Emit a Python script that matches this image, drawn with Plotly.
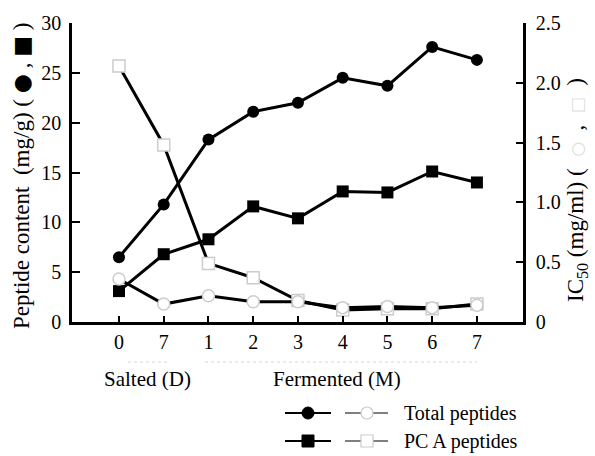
import plotly.graph_objects as go

# ---- data ----
categories = ["0", "7", "1", "2", "3", "4", "5", "6", "7"]
total_peptides = [6.5, 11.8, 18.3, 21.1, 22.0, 24.5, 23.7, 27.6, 26.3]
pca_peptides = [3.1, 6.8, 8.3, 11.6, 10.4, 13.1, 13.0, 15.1, 14.0]
total_ic50 = [0.36, 0.15, 0.22, 0.17, 0.17, 0.12, 0.13, 0.12, 0.14]
pca_ic50 = [2.14, 1.48, 0.49, 0.37, 0.18, 0.10, 0.11, 0.11, 0.15]
group_labels = ["Salted (D)", "Fermented (M)"]
legend_labels = ["Total peptides", "PC A peptides"]

FONT = "Liberation Serif, Times New Roman, serif"
idx = list(range(len(categories)))

# plot-area geometry (pixels)
W, H = 595, 456
L, R, T, B = 72, 523, 23, 322
PW, PH = R - L, B - T

def px(x):
    return (x - L) / PW

def py(y):
    return (B - y) / PH

fig = go.Figure()

open_marker = dict(color="white", line=dict(color="#cccccc", width=1.5), size=12)

fig.add_trace(go.Scatter(x=idx, y=pca_ic50, yaxis="y2", mode="lines+markers",
                         line=dict(color="black", width=3),
                         marker=dict(symbol="square", **open_marker), showlegend=False))
fig.add_trace(go.Scatter(x=idx, y=total_ic50, yaxis="y2", mode="lines+markers",
                         line=dict(color="black", width=3),
                         marker=dict(symbol="circle", **open_marker), showlegend=False))
fig.add_trace(go.Scatter(x=idx, y=pca_peptides, mode="lines+markers",
                         line=dict(color="black", width=3),
                         marker=dict(symbol="square", color="black", size=12), showlegend=False))
fig.add_trace(go.Scatter(x=idx, y=total_peptides, mode="lines+markers",
                         line=dict(color="black", width=3),
                         marker=dict(symbol="circle", color="black", size=12), showlegend=False))

shapes = []
annotations = []

def ann(text, x, y, size, xanchor="center", angle=0):
    annotations.append(dict(text=text, x=px(x), y=py(y), xref="paper", yref="paper",
                            xanchor=xanchor, yanchor="middle", textangle=angle,
                            showarrow=False, font=dict(family=FONT, size=size, color="black")))

# faint dotted group lines under the x tick labels
for x0, x1 in [(128, 168), (205, 477)]:
    shapes.append(dict(type="line", xref="paper", yref="paper",
                       x0=px(x0), x1=px(x1), y0=py(362), y1=py(362),
                       line=dict(color="#d4d4d4", width=1, dash="dot")))

# group labels
ann(group_labels[0], 147, 379, 21)
ann(group_labels[1], 337, 379, 21)

# axis titles
big = "style='font-family:DejaVu Sans;font-size:22px'"
ann(f"Peptide content  (mg/g) ( <span {big}>\u25CF</span> , "
    f"<span {big}>\u25A0</span> )", 21, 176, 23, angle=-90)
faint = "style='color:#dddddd;font-family:DejaVu Sans;font-size:17px'"
ann(f"IC<sub>50</sub> (mg/ml) (  <span {faint}>\u25CB</span>  ,  "
    f"<span {faint}>\u25A1</span>  )", 577, 190, 23, angle=-90)

# custom legend
rows = [(413, "circle", legend_labels[0]), (441, "square", legend_labels[1])]
r = 6
for yy, sym, label in rows:
    kind = "circle" if sym == "circle" else "rect"
    shapes.append(dict(type="line", xref="paper", yref="paper",
                       x0=px(285), x1=px(331), y0=py(yy), y1=py(yy),
                       line=dict(color="black", width=2)))
    shapes.append(dict(type=kind, xref="paper", yref="paper",
                       x0=px(308 - r), x1=px(308 + r), y0=py(yy + r), y1=py(yy - r),
                       fillcolor="black", line=dict(color="black", width=1)))
    shapes.append(dict(type="line", xref="paper", yref="paper",
                       x0=px(345), x1=px(388), y0=py(yy), y1=py(yy),
                       line=dict(color="#555555", width=1.3)))
    shapes.append(dict(type=kind, xref="paper", yref="paper",
                       x0=px(367 - r), x1=px(367 + r), y0=py(yy + r), y1=py(yy - r),
                       fillcolor="white", line=dict(color="#cccccc", width=1.2)))
    ann(label, 402, yy, 20, xanchor="left")

axis_common = dict(showline=True, linecolor="black", linewidth=2.5, showgrid=False,
                   zeroline=False, ticks="inside", tickwidth=1.5, tickcolor="black",
                   tickfont=dict(family=FONT, size=20, color="black"))

fig.update_layout(
    width=W, height=H,
    margin=dict(l=L, r=W - R, t=T, b=H - B),
    paper_bgcolor="white", plot_bgcolor="white",
    font=dict(family=FONT, size=20, color="black"),
    showlegend=False,
    xaxis=dict(range=[-1.05, 9.03], tickmode="array", tickvals=idx, ticktext=categories,
               ticklen=6, **axis_common),
    yaxis=dict(range=[0, 30], tickvals=[0, 5, 10, 15, 20, 25, 30], ticklen=8,
               ticklabelstandoff=4, **axis_common),
    yaxis2=dict(range=[0, 2.5], tickvals=[0, 0.5, 1.0, 1.5, 2.0, 2.5],
                ticktext=["0", "0.5", "1.0", "1.5", "2.0", "2.5"],
                overlaying="y", side="right", ticklen=7, ticklabelstandoff=6, **axis_common),
    shapes=shapes,
    annotations=annotations,
)

fig.write_html("out.html")
